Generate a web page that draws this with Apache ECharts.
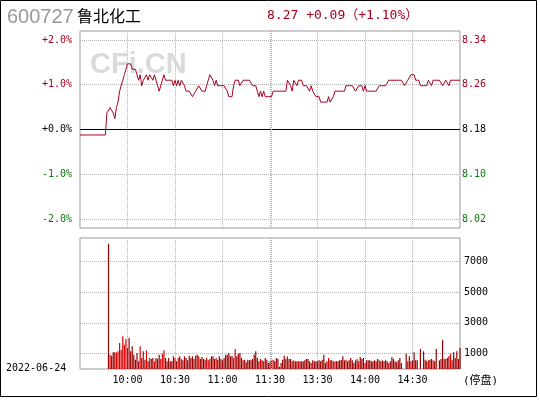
<!DOCTYPE html>
<html><head><meta charset="utf-8">
<script src="https://cdn.jsdelivr.net/npm/echarts@6/dist/echarts.min.js"></script>
<style>html,body{margin:0;padding:0;background:#fff}#c{width:540px;height:400px}</style>
</head><body><div id="c"></div>
<script>
const stockCode = '600727';
const stockName = '鲁北化工';
const tradeDate = '2022-06-24';
const prevClose = 8.18;
const haltNote = '(停盘)';
const watermark = 'CFi.CN';

// minute prices 9:30..11:30
const priceMorning = [
  8.17,8.17,8.17,8.17,8.17,8.17,8.17,8.17,8.17,8.17,8.17,8.17,8.17,8.17,8.17,8.17,8.17,
  8.21,8.21,8.22,8.22,8.21,8.20,8.22,8.23,8.25,8.26,8.27,8.28,8.29,
  8.30,8.30,8.30,8.29,8.29,8.29,8.28,8.27,8.28,8.26,8.27,8.27,8.28,8.27,8.28,8.28,8.27,8.28,8.27,8.26,
  8.25,8.26,8.27,8.28,8.27,8.27,8.27,8.27,8.27,8.26,
  8.27,8.26,8.27,8.26,8.27,8.27,8.26,8.25,8.25,8.25,8.25,8.24,8.24,8.25,8.25,8.26,8.26,8.25,8.25,8.25,
  8.26,8.27,8.28,8.28,8.27,8.26,8.27,8.26,8.26,8.26,
  8.26,8.26,8.26,8.25,8.24,8.24,8.24,8.26,8.27,8.27,8.27,8.26,8.26,8.27,8.27,8.27,8.27,8.27,8.27,8.26,
  8.26,8.26,8.25,8.24,8.25,8.24,8.25,8.24,8.24,8.24,8.24
];
// minute prices 13:01..15:00
const priceAfternoon = [
  8.24,8.25,8.25,8.25,8.25,8.25,8.25,8.25,8.25,8.25,
  8.27,8.27,8.26,8.25,8.27,8.27,8.26,8.27,8.27,8.27,
  8.26,8.26,8.26,8.26,8.25,8.26,8.25,8.25,8.24,8.24,
  8.24,8.23,8.23,8.23,8.23,8.23,8.24,8.23,8.23,8.24,
  8.25,8.25,8.25,8.25,8.25,8.25,8.25,8.26,8.26,8.26,
  8.26,8.26,8.26,8.25,8.25,8.26,8.26,8.26,8.25,8.26,
  8.25,8.25,8.25,8.25,8.25,8.25,8.25,8.25,8.26,8.26,
  8.26,8.26,8.26,8.26,8.27,8.27,8.27,8.27,8.27,8.27,
  8.27,8.27,8.27,8.27,8.26,8.26,8.27,8.27,8.28,8.28,
  8.28,8.27,8.27,8.27,8.26,8.26,8.26,8.26,8.26,8.27,
  8.27,8.26,8.27,8.27,8.27,8.27,8.27,8.27,8.26,8.26,
  8.27,8.27,8.26,8.27,8.27,8.27,8.27,8.27,8.27,8.27
];
// minute volumes 9:30..11:30
const volMorning = [
  0,0,0,0,0,0,0,0,0,0,0,0,0,0,0,0,0,0,
  8130,930,860,1080,1080,1080,1145,1685,1250,2120,1575,1945,1360,2010,1145,1470,930,605,1040,500,
  1470,715,1145,605,1210,500,715,650,715,500,715,650,930,650,995,1210,715,500,715,500,
  500,820,715,500,715,820,650,560,820,715,560,865,715,820,650,865,930,820,650,780,
  650,605,715,560,650,820,820,650,715,605,820,650,560,715,930,930,1040,820,865,715,
  1300,820,995,1040,715,560,605,430,605,560,605,650,930,1145,715,500,650,560,500,715,
  605,390,500,605
];
// minute volumes 13:01..15:00
const volAfternoon = [
  605,500,715,650,150,390,600,865,650,820,
  650,650,500,560,500,500,500,500,500,500,
  560,650,650,500,390,560,500,500,500,560,
  500,605,930,390,500,715,560,560,500,500,
  500,500,560,605,820,560,605,500,560,715,
  560,390,560,650,500,780,650,715,390,560,
  560,560,500,500,560,500,650,560,500,560,
  500,560,500,390,500,780,650,500,430,560,
  715,390,0,0,995,500,820,500,560,1080,
  560,560,0,1300,0,1145,605,500,560,605,
  650,560,500,1300,0,560,650,1900,650,650,
  715,820,995,560,1080,715,1145,650,1360,0
];

const pctTicks = [-2, -1, 0, 1, 2];
const pctLabels = ['-2.0%', '-1.0%', '+0.0%', '+1.0%', '+2.0%'];
const priceLabels = ['8.02', '8.10', '8.18', '8.26', '8.34'];
const volTicks = [1000, 3000, 5000, 7000];
const volLabels = ['1000', '3000', '5000', '7000'];
const timeLabels = ['10:00', '10:30', '11:00', '11:30', '13:30', '14:00', '14:30'];

// build categories (minutes)
function pad(n){ return (n < 10 ? '0' : '') + n; }
const times = [];
for (let t = 9*60+30; t <= 11*60+30; t++) times.push(Math.floor(t/60) + ':' + pad(t%60));
for (let t = 13*60+1; t <= 15*60; t++) times.push(Math.floor(t/60) + ':' + pad(t%60));

const prices = priceMorning.concat(priceAfternoon);
const volumes = volMorning.concat(volAfternoon);
const pctData = prices.map(p => +((p / prevClose - 1) * 100).toFixed(4));

const RED = '#a8001e', GREEN = '#0a7a0a', LINE = '#a8001e';
const BAR_UP = '#e00000', BAR_DN = '#990000';
const MONO = '"DejaVu Sans Mono", monospace';

const volData = volumes.map((v, i) => ({
  value: v,
  itemStyle: { color: (i > 0 && prices[i] > prices[i-1]) ? BAR_UP : BAR_DN }
}));

const last = prices[prices.length - 1];
const chg = last - prevClose;
const chgPct = chg / prevClose * 100;
const sgn = x => (x >= 0 ? '+' : '-') + Math.abs(x).toFixed(2);
const headerQuote = last.toFixed(2) + ' ' + sgn(chg) + '（' + sgn(chgPct) + '%）';

function tickIndex(v){ return pctTicks.findIndex(t => Math.abs(t - v) < 1e-6); }
function richKey(v){ return v > 1e-9 ? 'up' : (v < -1e-9 ? 'dn' : 'eq'); }
const richStyles = {
  up: { color: RED, fontFamily: MONO, fontSize: 10 },
  dn: { color: GREEN, fontFamily: MONO, fontSize: 10 },
  eq: { color: '#000', fontFamily: MONO, fontSize: 10 }
};
const showTime = (idx, val) => timeLabels.indexOf(val) >= 0;
const dotted = { color: '#b4b4b4', type: 'dotted', width: 1 };

const chart = echarts.init(document.getElementById('c'), null, { renderer: 'canvas' });
chart.setOption({
  animation: false,
  backgroundColor: '#fff',
  grid: [
    { left: 80, top: 31, width: 380, height: 197, show: true, borderColor: '#999', borderWidth: 1, backgroundColor: 'transparent' },
    { left: 80, top: 238, width: 380, height: 131, show: true, borderColor: '#999', borderWidth: 1, backgroundColor: 'transparent' }
  ],
  xAxis: [
    { type: 'category', gridIndex: 0, data: times, boundaryGap: false,
      axisLine: { show: false }, axisTick: { show: false }, axisLabel: { show: false },
      splitLine: { show: true, interval: showTime, lineStyle: dotted } },
    { type: 'category', gridIndex: 1, data: times, boundaryGap: false,
      axisLine: { show: false }, axisTick: { show: false },
      axisLabel: { show: true, interval: showTime, hideOverlap: false,
        color: '#000', fontFamily: MONO, fontSize: 10, margin: 6 },
      splitLine: { show: true, interval: showTime, lineStyle: dotted } }
  ],
  yAxis: [
    { type: 'value', gridIndex: 0, position: 'left', min: -2.2, max: 2.2,
      axisLine: { show: false },
      axisTick: { show: false, customValues: pctTicks },
      axisLabel: { customValues: pctTicks, margin: 8, rich: richStyles,
        formatter: v => '{' + richKey(v) + '|' + pctLabels[tickIndex(v)] + '}' },
      splitLine: { show: true, lineStyle: dotted } },
    { type: 'value', gridIndex: 0, position: 'right', min: -2.2, max: 2.2,
      axisLine: { show: false },
      axisTick: { show: false, customValues: pctTicks },
      axisLabel: { customValues: pctTicks, margin: 2, rich: richStyles,
        formatter: v => '{' + richKey(v) + '|' + priceLabels[tickIndex(v)] + '}' },
      splitLine: { show: false } },
    { type: 'value', gridIndex: 1, position: 'right', min: 0, max: 8500,
      axisLine: { show: false },
      axisTick: { show: false, customValues: volTicks },
      axisLabel: { customValues: volTicks, margin: 4, color: '#000', fontFamily: MONO, fontSize: 10,
        formatter: v => volLabels[volTicks.indexOf(v)] },
      splitLine: { show: true, lineStyle: dotted } }
  ],
  series: [
    { type: 'line', xAxisIndex: 0, yAxisIndex: 0, data: pctData, showSymbol: false, symbol: 'none',
      lineStyle: { color: LINE, width: 1 }, z: 5,
      markLine: { silent: true, symbol: 'none', label: { show: false },
        data: [
          { yAxis: 0, lineStyle: { color: '#000', type: 'solid', width: 1.2 } },
          { xAxis: '13:01', lineStyle: dotted }
        ] } },
    { type: 'bar', xAxisIndex: 1, yAxisIndex: 2, data: volData, barWidth: 1.2,
      markLine: { silent: true, symbol: 'none', label: { show: false },
        data: [ { xAxis: '13:01', lineStyle: dotted } ] } }
  ],
  graphic: [
    { type: 'rect', z: 0, shape: { x: 0.5, y: 0.5, width: 536, height: 396 },
      style: { fill: 'none', stroke: '#000', lineWidth: 1 } },
    { type: 'text', z: 1, x: 90, y: 65,
      style: { text: watermark, font: 'bold 29px "Liberation Sans", Arial, sans-serif', fill: '#dadada',
        align: 'left', verticalAlign: 'middle', textAlign: 'left', textVerticalAlign: 'middle' } },
    { type: 'text', z: 10, x: 7, y: 17,
      style: { text: stockCode, font: '20px "Liberation Sans", Arial, sans-serif', fill: '#999',
        align: 'left', verticalAlign: 'middle', textAlign: 'left', textVerticalAlign: 'middle' } },
    { type: 'text', z: 10, x: 77, y: 16,
      style: { text: stockName, font: '16px "Noto Sans CJK SC", sans-serif', fill: '#000',
        align: 'left', verticalAlign: 'middle', textAlign: 'left', textVerticalAlign: 'middle' } },
    { type: 'text', z: 10, x: 267, y: 16,
      style: { text: headerQuote, font: '13px "DejaVu Sans Mono", "Noto Sans CJK SC", monospace', fill: RED,
        align: 'left', verticalAlign: 'middle', textAlign: 'left', textVerticalAlign: 'middle' } },
    { type: 'text', z: 10, x: 6, y: 368,
      style: { text: tradeDate, font: '10px "DejaVu Sans Mono", monospace', fill: '#000',
        align: 'left', verticalAlign: 'middle', textAlign: 'left', textVerticalAlign: 'middle' } },
    { type: 'text', z: 10, x: 463, y: 381,
      style: { text: haltNote, font: '11px "DejaVu Sans Mono", "Noto Sans CJK SC", monospace', fill: '#000',
        align: 'left', verticalAlign: 'middle', textAlign: 'left', textVerticalAlign: 'middle' } }
  ]
});
</script></body></html>
